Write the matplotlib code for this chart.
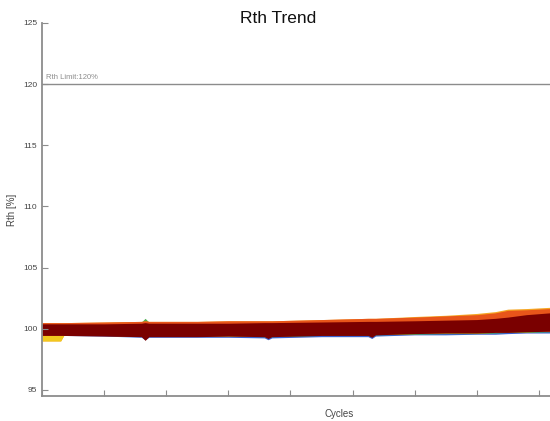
import numpy as np
import matplotlib.pyplot as plt

plt.rcParams['font.family'] = ['Liberation Sans', 'DejaVu Sans']

cycles = [0, 300, 350, 1000, 1600, 1660, 1720, 2500, 3000, 3580, 3640, 3700,
          4500, 5250, 5310, 5370, 6000, 6500, 7000, 7300, 7500, 7800, 8180]

# lower / upper edge of each measurement band, Rth in %
blue_lo = [99.45, 99.45, 99.45, 99.40, 99.30, 99.10, 99.30, 99.30, 99.30, 99.25, 99.10, 99.25,
           99.35, 99.35, 99.20, 99.40, 99.50, 99.50, 99.55, 99.55, 99.60, 99.65, 99.65]
blue_hi = [100.40, 100.40, 100.40, 100.45, 100.45, 100.45, 100.45, 100.50, 100.50, 100.50, 100.50, 100.50,
           100.55, 100.60, 100.60, 100.60, 100.70, 100.75, 100.85, 100.95, 101.10, 101.20, 101.35]
green_lo = [99.50, 99.50, 99.50, 99.45, 99.40, 99.30, 99.40, 99.40, 99.40, 99.35, 99.30, 99.35,
            99.45, 99.45, 99.35, 99.50, 99.55, 99.60, 99.60, 99.65, 99.70, 99.70, 99.75]
green_hi = [100.45, 100.45, 100.45, 100.50, 100.55, 100.85, 100.55, 100.50, 100.50, 100.55, 100.55, 100.55,
            100.60, 100.65, 100.65, 100.65, 100.75, 100.80, 100.90, 101.00, 101.15, 101.25, 101.40]
yellow_lo = [99.00, 99.00, 99.45, 99.45, 99.40, 99.25, 99.40, 99.40, 99.40, 99.40, 99.30, 99.40,
             99.50, 99.50, 99.40, 99.55, 99.60, 99.65, 99.65, 99.70, 99.75, 99.75, 99.80]
yellow_hi = [100.50, 100.50, 100.50, 100.55, 100.60, 100.65, 100.60, 100.60, 100.65, 100.65, 100.65, 100.65,
             100.75, 100.85, 100.85, 100.85, 101.00, 101.10, 101.25, 101.40, 101.60, 101.65, 101.75]
orange_lo = [99.40, 99.40, 99.45, 99.45, 99.40, 99.20, 99.40, 99.40, 99.45, 99.40, 99.30, 99.40,
             99.50, 99.55, 99.40, 99.55, 99.65, 99.70, 99.70, 99.75, 99.75, 99.80, 99.80]
orange_hi = [100.50, 100.50, 100.50, 100.55, 100.60, 100.65, 100.60, 100.60, 100.65, 100.65, 100.65, 100.65,
             100.75, 100.85, 100.85, 100.85, 100.95, 101.05, 101.15, 101.30, 101.50, 101.55, 101.65]
red_lo = [99.45, 99.45, 99.45, 99.40, 99.35, 99.05, 99.35, 99.35, 99.40, 99.35, 99.20, 99.35,
          99.45, 99.45, 99.30, 99.50, 99.60, 99.65, 99.65, 99.70, 99.70, 99.75, 99.80]
red_hi = [100.40, 100.40, 100.40, 100.40, 100.45, 100.50, 100.45, 100.45, 100.45, 100.50, 100.50, 100.50,
          100.55, 100.60, 100.60, 100.60, 100.65, 100.70, 100.75, 100.85, 100.95, 101.15, 101.30]

series = [
    (blue_lo, blue_hi, '#3a5fcd'),
    (green_lo, green_hi, '#4caf50'),
    (yellow_lo, yellow_hi, '#f5a623'),
    (orange_lo, orange_hi, '#e8551a'),
    (red_lo, red_hi, '#7a0000'),
]

limit = 120
xticks = [0, 1000, 2000, 3000, 4000, 5000, 6000, 7000, 8000]
yticks = [95, 100, 105, 110, 115, 120, 125]

fig = plt.figure(figsize=(5.5, 4.21), dpi=100)
ax = fig.add_axes([0.0764, 0.0594, 0.9236, 0.886])

for lo, hi, col in series:
    ax.fill_between(cycles, lo, hi, color=col, lw=0)
# yellow trace at the very start sits below the others
ax.fill_between(cycles[:3], yellow_lo[:3], red_lo[:3], color='#f2c81e', lw=0)

grey = '#8c8c8c'
ax.axhline(limit, color=grey, lw=1)
ax.text(60, limit + 0.25, 'Rth Limit:120%', fontsize=5.5, color=grey, va='bottom')

ax.set_xlim(0, 8180)
ax.set_ylim(94.5, 125)
ax.set_xticks(xticks)
ax.set_xticklabels([])
ax.set_yticks(yticks)
ax.tick_params(direction='in', length=4, color=grey, labelsize=6, labelcolor='#444444')
for side in ['top', 'right']:
    ax.spines[side].set_visible(False)
for side in ['left', 'bottom']:
    ax.spines[side].set_color(grey)
    ax.spines[side].set_linewidth(1.3)

ax.set_xlabel('Cycles', fontsize=7, color='#444444')
ax.xaxis.set_label_coords(0.585, -0.035)
ax.set_ylabel('Rth [%]', fontsize=7, color='#444444')
fig.text(0.505, 0.955, 'Rth Trend', fontsize=12.5, ha='center', va='center', color='#111111')

fig.savefig('out.png', dpi=100)
